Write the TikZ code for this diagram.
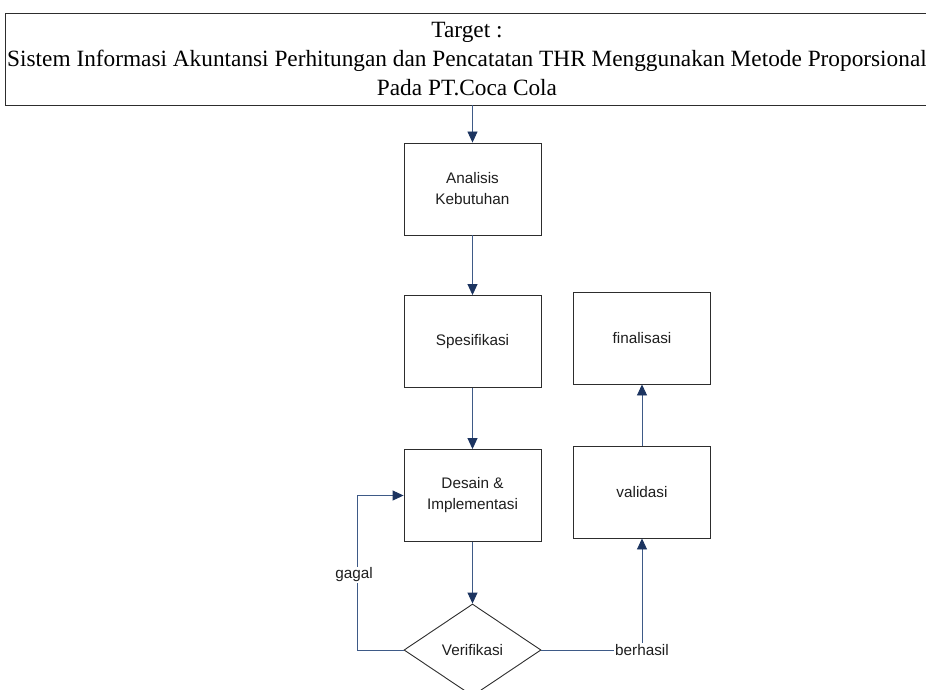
\documentclass[tikz,border=0pt]{standalone}
\usepackage{fontspec}
\setmainfont{Liberation Serif}
\newfontfamily\arialfont{Liberation Sans}
\usetikzlibrary{arrows.meta,shapes.geometric}
\definecolor{linec}{RGB}{62,90,135}
\definecolor{tipc}{RGB}{28,52,96}
\definecolor{boxc}{RGB}{45,45,45}
\definecolor{txtc}{RGB}{30,30,30}
\begin{document}
\begin{tikzpicture}[x=1pt,y=-1pt,
  boxstyle/.style={draw=boxc, line width=0.9pt, minimum width=137pt, minimum height=92pt, inner sep=0pt,
    align=center, text=txtc, font=\arialfont\fontsize{15.3}{21}\selectfont},
  arr/.style={draw=linec, line width=0.9pt, -{Triangle[length=11pt,width=10pt,color=tipc]}},
  lbl/.style={fill=white, inner sep=1pt, text=txtc, font=\arialfont\fontsize{15.3}{18}\selectfont}]
\useasboundingbox (0,0) rectangle (926,690);
\node[draw=boxc, line width=0.9pt, minimum width=924pt, minimum height=92pt, inner sep=0pt,
  align=center, font=\fontsize{23.3}{28.8}\selectfont] (target) at (467,59)
  {Target :\\Sistem Informasi Akuntansi Perhitungan dan Pencatatan THR Menggunakan Metode Proporsional\\Pada PT.Coca Cola};
\node[boxstyle] (ana) at (472.5,189) {Analisis\\Kebutuhan};
\node[boxstyle] (spe) at (472.5,341.5) {Spesifikasi};
\node[boxstyle] (des) at (472.5,495.5) {Desain \&\\Implementasi};
\node[boxstyle] (fin) at (642,338) {finalisasi};
\node[boxstyle] (val) at (642,492) {validasi};
\node[diamond, draw=boxc, line width=0.9pt, minimum width=137pt, minimum height=92pt, inner sep=0pt,
  text=txtc, font=\arialfont\fontsize{15.3}{18}\selectfont] (ver) at (472.5,650) {Verifikasi};
\coordinate (gx) at (357,650);
\draw[arr] (ana.north |- target.south) -- (ana.north);
\draw[arr] (ana) -- (spe);
\draw[arr] (spe) -- (des);
\draw[arr] (des) -- (ver);
\draw[arr] (ver.west) -- (gx) |- node[lbl, pos=0.25, xshift=-3pt, yshift=-2pt] {gagal} (des.west);
\draw[arr] (ver.east) -- (val.south |- ver.east) node[lbl] {berhasil} -- (val.south);
\draw[arr] (val) -- (fin);
\end{tikzpicture}
\end{document}
